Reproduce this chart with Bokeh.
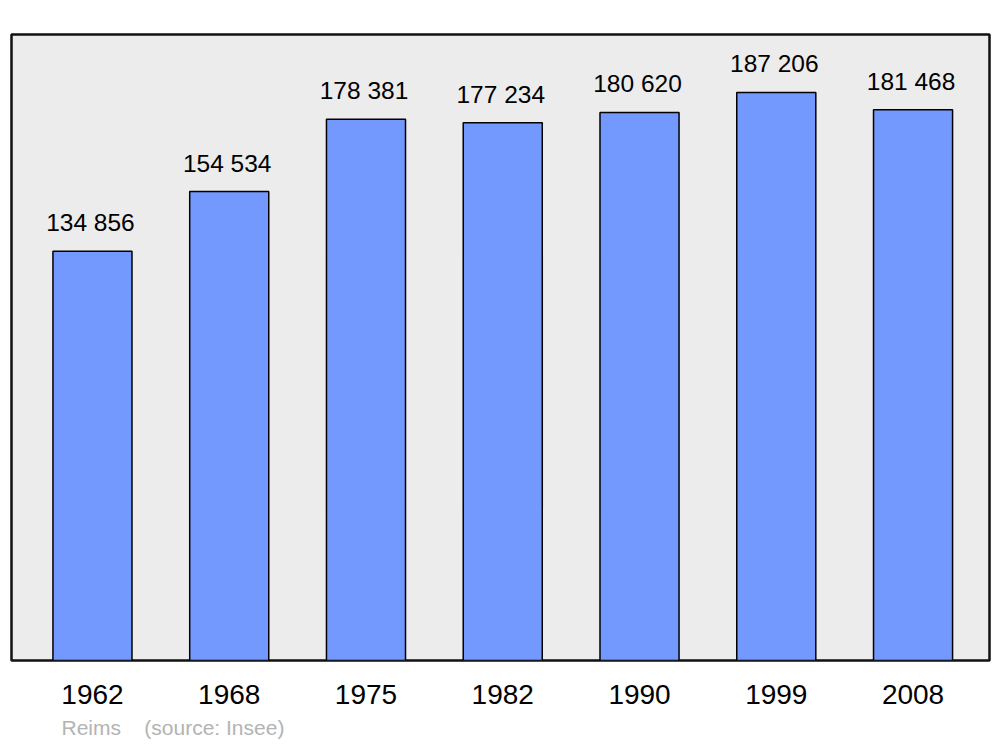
from bokeh.plotting import figure
from bokeh.models import (ColumnDataSource, LabelSet, Title, Range1d, FixedTicker)
from bokeh.core.properties import value
from bokeh.embed import file_html
from bokeh.resources import INLINE

years = ["1962", "1968", "1975", "1982", "1990", "1999", "2008"]
population = [134856, 154534, 178381, 177234, 180620, 187206, 181468]
city = "Reims"
source_note = "(source: Insee)"

FONT = "Liberation Sans"
xs = list(range(len(years)))
labels = [f"{v:,}".replace(",", " ") for v in population]
src = ColumnDataSource(dict(x=xs, top=population, label=labels))

p = figure(width=996, height=745, output_backend="svg", toolbar_location=None,
           x_range=Range1d(-0.592, 6.559), y_range=Range1d(0, 206300),
           min_border_left=11, min_border_right=7, min_border_top=34,
           min_border_bottom=85)
p.background_fill_color = "#ececec"
p.border_fill_color = "white"
p.outline_line_color = "#111111"
p.outline_line_width = 2.5
p.outline_line_alpha = 1
p.xgrid.visible = False
p.ygrid.visible = False
p.yaxis.visible = False

p.vbar(x="x", top="top", bottom=0, width=0.578, source=src,
       fill_color="#7399ff", line_color="#000000", line_width=1.5)

p.add_layout(LabelSet(x="x", y="top", text="label", source=src, y_offset=20,
                      x_offset=-2, text_align="center", text_baseline="alphabetic",
                      text_font=value(FONT), text_font_size=value("24.5px"),
                      text_color="#000000"))

ax = p.xaxis[0]
ax.ticker = FixedTicker(ticks=xs)
ax.major_label_overrides = {i: y for i, y in enumerate(years)}
ax.axis_line_color = None
ax.major_tick_line_color = None
ax.minor_tick_line_color = None
ax.major_label_standoff = 18
ax.major_label_text_font = FONT
ax.major_label_text_font_size = "28px"
ax.major_label_text_color = "#000000"

note = city + "\u00a0" * 4 + source_note
p.add_layout(Title(text=note, align="left", offset=50, standoff=14,
                   text_font=FONT, text_font_size="21px", text_color="#b3b3b3",
                   text_font_style="normal"), "below")

open("out.html", "w").write(file_html(p, INLINE))
